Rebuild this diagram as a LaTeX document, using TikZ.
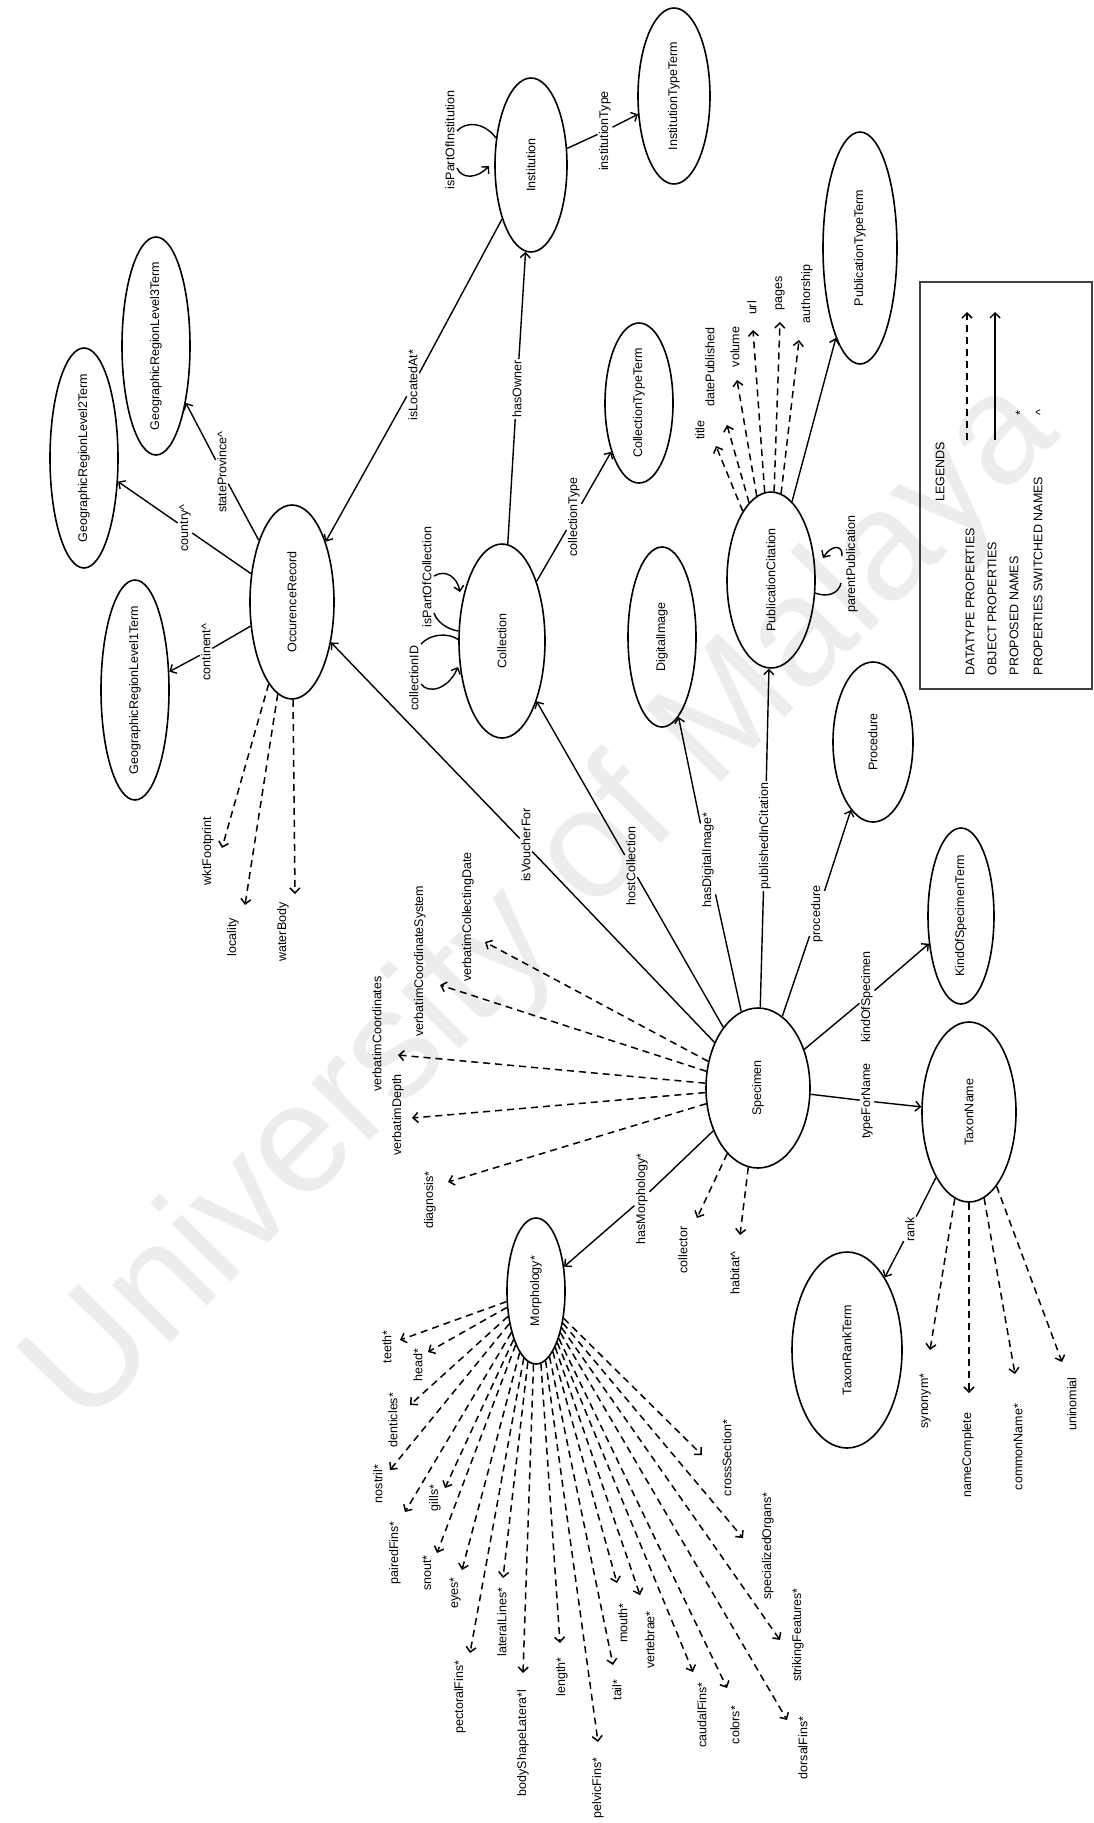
\documentclass[tikz,border=0pt]{standalone}
\usepackage{fontspec}
\setmainfont{Liberation Sans}
\usetikzlibrary{shapes.geometric,arrows.meta}
\begin{document}
\begin{tikzpicture}[x=1pt,y=-1pt,
  every node/.style={font=\fontsize{12.5}{14}\selectfont},
  ent/.style 2 args={draw, ellipse, rotate=90, inner sep=0pt, line width=1.6pt, minimum width=#1pt, minimum height=#2pt},
  lbl/.style={rotate=90, inner sep=1.5pt},
  objl/.style={line width=1.4pt},
  obj/.style={line width=1.4pt, -{Straight Barb[length=5pt,width=10pt]}},
  dt/.style={line width=1.5pt, dash pattern=on 7pt off 5pt, -{Straight Barb[length=5pt,width=10pt]}},
]
\useasboundingbox (0,0) rectangle (1094,1823);
\fill[white] (0,0) rectangle (1094,1823);
% watermark
\node[rotate=45.5, text=black!7, inner sep=0pt, font=\fontsize{155}{155}\selectfont] (wm) at (545,905) {University of Malaya};

% entities
\node[ent={218}{68}] (geo3) at (156,346) {\makebox[0pt]{GeographicRegionLevel3Term}};
\node[ent={220}{68}] (geo2) at (84,458) {\makebox[0pt]{GeographicRegionLevel2Term}};
\node[ent={220}{68}] (geo1) at (135,690) {\makebox[0pt]{GeographicRegionLevel1Term}};
\node[ent={194}{84}] (occ) at (292,602) {\makebox[0pt]{OccurenceRecord}};
\node[ent={174}{72}] (inst) at (531,165) {\makebox[0pt]{Institution}};
\node[ent={176}{72}] (insttype) at (674,96) {\makebox[0pt]{InstitutionTypeTerm}};
\node[ent={160}{68}] (colltype) at (639,403) {\makebox[0pt]{CollectionTypeTerm}};
\node[ent={194}{86}] (coll) at (502,641) {\makebox[0pt]{Collection}};
\node[ent={180}{68}] (dimg) at (662,637) {\makebox[0pt]{DigitalImage}};
\node[ent={176}{88}] (pubcit) at (771,580) {\makebox[0pt]{PublicationCitation}};
\node[ent={232}{74}] (pubtype) at (860,248) {\makebox[0pt]{PublicationTypeTerm}};
\node[ent={160}{80}] (proc) at (873,742) {\makebox[0pt]{Procedure}};
\node[ent={176}{66}] (kind) at (961,916) {\makebox[0pt]{KindOfSpecimenTerm}};
\node[ent={180}{94}] (taxon) at (969,1112) {\makebox[0pt]{TaxonName}};
\node[ent={160}{104}] (spec) at (758,1088) {\makebox[0pt]{Specimen}};
\node[ent={196}{110}] (rankterm) at (847,1350) {\makebox[0pt]{TaxonRankTerm}};
\node[ent={146}{58}] (morph) at (536,1291) {\makebox[0pt]{Morphology*}};

% object property labels
\node[lbl] (lContinent) at (206,652) {continent\textasciicircum};
\node[lbl] (lCountry) at (185,528) {country\textasciicircum};
\node[lbl] (lState) at (222,472) {stateProvince\textasciicircum};
\node[lbl] (lLocated) at (413,385) {isLocatedAt*};
\node[lbl] (lOwner) at (517,389) {hasOwner};
\node[lbl] (lInstType) at (605,131) {institutionType};
\node[lbl] (lCollType) at (574,517) {collectionType};
\node[lbl] (lVoucher) at (526,845) {isVoucherFor};
\node[lbl] (lHost) at (631,866) {hostCollection};
\node[lbl] (lDigImg) at (708,860) {hasDigitalImage*};
\node[lbl] (lPubIn) at (765,836) {publishedInCitation};
\node[lbl] (lProc) at (817,914) {procedure};
\node[lbl] (lKind) at (867,997) {kindOfSpecimen};
\node[lbl] (lType) at (867,1101) {typeForName};
\node[lbl] (lRank) at (910,1229) {rank};
\node[lbl] (lMorph) at (642,1199) {hasMorphology*};
\node[lbl] (lIPI) at (450,140) {isPartOfInstitution};
\node[lbl] (lCID) at (414,678) {collectionID};
\node[lbl] (lIPC) at (427,577) {isPartOfCollection};
\node[lbl] (lParent) at (852,564) {parentPublication};

% object property connectors
\draw[objl] (occ) -- (lContinent); \draw[obj] (lContinent) -- (geo1);
\draw[objl] (occ) -- (lCountry); \draw[obj] (lCountry) -- (geo2);
\draw[objl] (occ) -- (lState); \draw[obj] (lState) -- (geo3);
\draw[objl] (inst) -- (lLocated); \draw[obj] (lLocated) -- (occ);
\draw[objl] (coll) -- (lOwner); \draw[obj] (lOwner) -- (inst);
\draw[objl] (inst) -- (lInstType); \draw[obj] (lInstType) -- (insttype);
\draw[objl] (coll) -- (lCollType); \draw[obj] (lCollType) -- (colltype);
\draw[objl] (spec) -- (lVoucher); \draw[obj] (lVoucher) -- (occ);
\draw[objl] (spec) -- (lHost); \draw[obj] (lHost) -- (coll);
\draw[objl] (spec) -- (lDigImg); \draw[obj] (lDigImg) -- (dimg);
\draw[objl] (spec) -- (lPubIn); \draw[obj] (lPubIn) -- (pubcit);
\draw[obj] (pubcit) -- (pubtype);
\draw[objl] (spec) -- (lProc); \draw[obj] (lProc) -- (proc);
\draw[objl] (spec) -- (lKind); \draw[obj] (lKind) -- (kind);
\draw[objl] (spec) -- (lType); \draw[obj] (lType) -- (taxon);
\draw[objl] (taxon) -- (lRank); \draw[obj] (lRank) -- (rankterm);
\draw[objl] (spec) -- (lMorph); \draw[obj] (lMorph) -- (morph);

% self loops
\coordinate (ipiA) at (496,138); \coordinate (ipiB) at (457,131);
\coordinate (ipiC) at (457,168); \coordinate (ipiD) at (489,166);
\draw[objl] (ipiA) .. controls (484,122) and (466,121) .. (ipiB);
\draw[obj] (ipiC) .. controls (462,180) and (478,178) .. (ipiD);
\coordinate (cidA) at (459,640); \coordinate (cidB) at (421,644);
\coordinate (cidC) at (421,684); \coordinate (cidD) at (458,667);
\draw[objl] (cidA) .. controls (448,632) and (430,634) .. (cidB);
\draw[obj] (cidC) .. controls (428,694) and (448,690) .. (cidD);
\coordinate (ipcA) at (458,631); \coordinate (ipcB) at (434,613);
\coordinate (ipcC) at (434,576); \coordinate (ipcD) at (460,592);
\draw[objl] (ipcA) .. controls (447,629) and (437,622) .. (ipcB);
\draw[obj] (ipcC) .. controls (446,569) and (457,577) .. (ipcD);
\coordinate (ppA) at (815,593); \coordinate (ppB) at (841,583);
\coordinate (ppC) at (842,556); \coordinate (ppD) at (823,558);
\draw[objl] (ppA) .. controls (828,598) and (839,593) .. (ppB);
\draw[obj] (ppC) .. controls (843,544) and (831,545) .. (ppD);

% datatype properties
\foreach \nm/\lx/\ly/\tx/\ty/\txt in {
  wkt/208/851/222/848/wktFootprint,
  loc/233/937/245/905/locality,
  wat/283/932/295/894/waterBody}
{ \node[lbl] (d\nm) at (\lx,\ly) {\txt}; \coordinate (t\nm) at (\tx,\ty); \draw[dt] (occ) -- (t\nm); }

\foreach \nm/\lx/\ly/\tx/\ty/\txt in {
  tit/700/430/716/446/title,
  dat/710/367/727/425/datePublished,
  vol/735/347/737/380/volume,
  url/752/308/753/330/url,
  pag/780/293/780/322/pages,
  aut/807/294/799/340/authorship}
{ \node[lbl] (d\nm) at (\lx,\ly) {\txt}; \coordinate (t\nm) at (\tx,\ty); \draw[dt] (pubcit) -- (t\nm); }

\foreach \nm/\lx/\ly/\tx/\ty/\txt in {
  vcd/468/917/485/942/verbatimCollectingDate,
  vcs/420/961/440/985/verbatimCoordinateSystem,
  vco/377/1034/398/1055/verbatimCoordinates,
  vde/398/1115/412/1118/verbatimDepth,
  dia/430/1200/448/1182/diagnosis*,
  col/683/1250/697/1218/collector,
  hab/735/1273/740/1235/habitat\textasciicircum}
{ \node[lbl] (d\nm) at (\lx,\ly) {\txt}; \coordinate (t\nm) at (\tx,\ty); \draw[dt] (spec) -- (t\nm); }

\foreach \nm/\lx/\ly/\tx/\ty/\txt in {
  syn/925/1401/930/1350/synonym*,
  nco/968/1455/969/1393/nameComplete,
  cnm/1018/1447/1015/1374/commonName*,
  uni/1072/1404/1062/1362/uninomial}
{ \node[lbl] (d\nm) at (\lx,\ly) {\txt}; \coordinate (t\nm) at (\tx,\ty); \draw[dt] (taxon) -- (t\nm); }

\foreach \nm/\lx/\ly/\tx/\ty/\txt in {
  tee/387/1347/400/1340/teeth*,
  hea/418/1365/428/1352/head*,
  den/393/1420/410/1405/denticles*,
  nos/378/1484/390/1470/nostril*,
  pai/395/1553/405/1512/pairedFins*,
  gil/435/1498/445/1488/gills*,
  sno/427/1573/437/1553/snout*,
  eye/455/1593/462/1570/eyes*,
  pec/460/1697/470/1653/pectoralFins*,
  lat/502/1622/503/1578/lateralLines*,
  bod/523/1743/523/1673/bodyShapeLatera*l,
  len/562/1677/560/1643/length*,
  pel/598/1788/598/1742/pelvicFins*,
  tai/617/1690/613/1665/tail*,
  mou/623/1623/617/1583/mouth*,
  ver/650/1640/640/1595/vertebrae*,
  cau/702/1715/693/1672/caudalFins*,
  clr/735/1725/727/1688/colors*,
  dor/803/1748/787/1720/dorsalFins*,
  str/798/1635/780/1640/strikingFeatures*,
  spo/768/1546/743/1538/specializedOrgans*,
  crs/727/1458/702/1455/crossSection*}
{ \node[lbl] (d\nm) at (\lx,\ly) {\txt}; \coordinate (t\nm) at (\tx,\ty); \draw[dt] (morph) -- (t\nm); }

% legend
\draw[line width=1.5pt, draw=black!75] (920,282) rectangle (1092,689);
\node[lbl] (lgT) at (940,472) {LEGENDS};
\node[lbl, anchor=west] (lgD) at (970,677) {DATATYPE PROPERTIES};
\node[lbl, anchor=west] (lgO) at (992,677) {OBJECT PROPERTIES};
\node[lbl, anchor=west] (lgP) at (1014,677) {PROPOSED NAMES};
\node[lbl, anchor=west] (lgS) at (1038,677) {PROPERTIES SWITCHED NAMES};
\coordinate (lgDa) at (967,440); \coordinate (lgDb) at (967,312);
\coordinate (lgOa) at (995,440); \coordinate (lgOb) at (995,312);
\draw[dt] (lgDa) -- (lgDb);
\draw[obj] (lgOa) -- (lgOb);
\node[lbl] (lgStar) at (1020,413) {*};
\node[lbl] (lgHat) at (1040,413) {\textasciicircum};
\end{tikzpicture}
\end{document}
